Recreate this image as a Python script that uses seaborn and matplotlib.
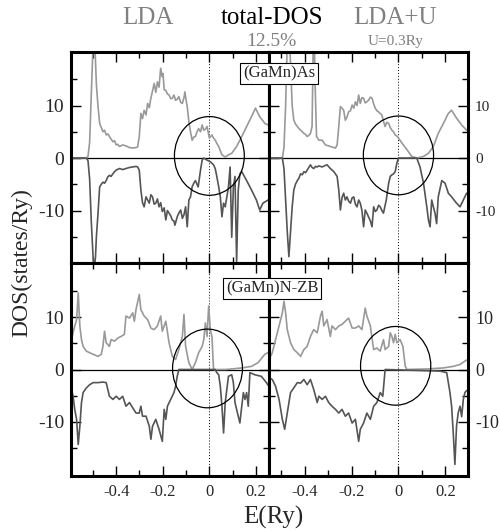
import numpy as np
import matplotlib
matplotlib.use("Agg")
import matplotlib.pyplot as plt
from matplotlib.patches import Ellipse
from matplotlib.ticker import FixedLocator, MultipleLocator, FixedFormatter
import seaborn as sns

# ---------------- data: (E in Ry, DOS in states/Ry) ----------------
# (GaMn)As, LDA
as_lda_up = [(-0.592, 0), (-0.528, 0), (-0.521, 0.3), (-0.514, 3), (-0.507, 12), (-0.499, 22), (-0.492, 22),
             (-0.485, 14), (-0.478, 9.8), (-0.471, 6.6), (-0.464, 5.8), (-0.457, 5.0), (-0.450, 5.3), (-0.443, 4.4),
             (-0.436, 4.6), (-0.429, 4.1), (-0.422, 3.6), (-0.414, 3.1), (-0.407, 3.3), (-0.400, 2.5), (-0.393, 2.6),
             (-0.386, 2.2), (-0.372, 2.5), (-0.358, 2.3), (-0.343, 2.0), (-0.329, 1.9), (-0.315, 2.0), (-0.308, 2.1),
             (-0.301, 4.1), (-0.294, 8.5), (-0.287, 7.5), (-0.280, 9.1), (-0.272, 8.2), (-0.265, 10.4), (-0.258, 9.6),
             (-0.251, 11.4), (-0.244, 12.8), (-0.237, 14.2), (-0.230, 12.5), (-0.223, 14.5), (-0.216, 13.5),
             (-0.209, 17.1), (-0.202, 15.5), (-0.199, 16.1), (-0.194, 13.0), (-0.187, 12.9), (-0.180, 12.2),
             (-0.173, 12.0), (-0.166, 11.3), (-0.159, 11.4), (-0.152, 12.0), (-0.145, 11.0), (-0.138, 11.2),
             (-0.131, 11.7), (-0.123, 10.6), (-0.116, 10.4), (-0.109, 11.5), (-0.105, 12.6), (-0.099, 10.8),
             (-0.095, 9.8), (-0.088, 6.9), (-0.081, 5.0), (-0.074, 3.4), (-0.067, 4.0), (-0.060, 4.1), (-0.053, 5.0),
             (-0.046, 5.6), (-0.038, 5.0), (-0.031, 6.3), (-0.024, 5.3), (-0.017, 5.5), (-0.010, 6.0), (-0.003, 4.5),
             (0.000, 3.8), (0.011, 4.4), (0.018, 3.8), (0.025, 3.4), (0.032, 2.8), (0.040, 2.2), (0.047, 1.4),
             (0.054, 0.6), (0.068, 0.2), (0.082, 0.6), (0.096, 0.9), (0.117, 2.2), (0.139, 4.1), (0.160, 6.0),
             (0.181, 7.9), (0.198, 9.5), (0.216, 7.9), (0.238, 6.6), (0.252, 6.3)]
as_lda_dn = [(-0.592, 0), (-0.528, 0), (-0.521, -0.5), (-0.514, -4), (-0.507, -12), (-0.499, -19), (-0.495, -21),
             (-0.489, -19), (-0.485, -15), (-0.478, -10.5), (-0.471, -5.5), (-0.464, -5.0), (-0.457, -4.6),
             (-0.450, -4.8), (-0.443, -4.3), (-0.436, -3.6), (-0.429, -3.3), (-0.422, -3.5), (-0.414, -3.0),
             (-0.407, -2.6), (-0.400, -2.3), (-0.386, -2.0), (-0.372, -2.2), (-0.358, -2.0), (-0.343, -1.8),
             (-0.329, -1.7), (-0.315, -1.6), (-0.308, -1.7), (-0.301, -2.3), (-0.294, -6.1), (-0.287, -8.5),
             (-0.280, -9.3), (-0.272, -7.4), (-0.265, -8.0), (-0.258, -8.6), (-0.251, -7.0), (-0.244, -7.4),
             (-0.237, -8.8), (-0.230, -8.6), (-0.223, -7.8), (-0.216, -9.3), (-0.209, -8.5), (-0.202, -10.2),
             (-0.194, -9.5), (-0.187, -11.8), (-0.180, -10.0), (-0.173, -10.5), (-0.166, -11.0), (-0.159, -11.8),
             (-0.152, -12.0), (-0.148, -12.8), (-0.138, -11.2), (-0.131, -10.5), (-0.123, -9.9), (-0.116, -11.5),
             (-0.109, -10.8), (-0.102, -9.3), (-0.095, -13.1), (-0.088, -8.0), (-0.081, -7.4), (-0.074, -5.5),
             (-0.067, -4.8), (-0.060, -4.3), (-0.053, -5.0), (-0.048, -5.5), (-0.038, -2.3), (-0.031, -0.4),
             (-0.024, 0), (-0.017, -0.2), (-0.010, -0.4), (0.004, -0.7), (0.018, -1.3), (0.025, -2.0), (0.032, -3.5),
             (0.040, -5.5), (0.047, -7.4), (0.054, -11.2), (0.061, -8.6), (0.068, -9.3), (0.075, -7.4),
             (0.082, -5.5), (0.089, -1.7), (0.096, -15.1), (0.103, -5.5), (0.110, -3.5), (0.117, -19.7),
             (0.124, -6.1), (0.131, -3.0), (0.139, -2.6), (0.160, -4.3), (0.181, -6.1), (0.202, -8.0),
             (0.216, -9.9), (0.230, -8.6), (0.252, -8.0)]

# (GaMn)As, LDA+U
as_ldau_up = [(-0.553, 0), (-0.496, 0), (-0.489, 2), (-0.482, 10), (-0.475, 22), (-0.468, 25), (-0.461, 18),
              (-0.454, 10), (-0.447, 7.2), (-0.440, 6.5), (-0.432, 6.0), (-0.425, 5.6), (-0.418, 5.3),
              (-0.411, 5.0), (-0.404, 4.7), (-0.397, 4.5), (-0.390, 4.1), (-0.383, 4.3), (-0.376, 4.7),
              (-0.369, 6.0), (-0.364, 22), (-0.360, 24), (-0.356, 14), (-0.350, 4.1), (-0.340, 3.4), (-0.326, 3.4),
              (-0.312, 2.5), (-0.291, 2.2), (-0.269, 1.9), (-0.262, 2.5), (-0.255, 6.0), (-0.248, 9.8),
              (-0.241, 9.5), (-0.234, 9.1), (-0.227, 7.2), (-0.220, 7.8), (-0.213, 8.8), (-0.205, 9.0),
              (-0.198, 10.1), (-0.191, 9.5), (-0.184, 10.7), (-0.177, 10.0), (-0.170, 12.0), (-0.163, 10.4),
              (-0.156, 11.5), (-0.149, 11.4), (-0.142, 10.5), (-0.135, 10.7), (-0.128, 11.0), (-0.120, 11.6),
              (-0.113, 11.4), (-0.106, 10.3), (-0.099, 9.5), (-0.092, 9.0), (-0.085, 8.8), (-0.078, 8.5),
              (-0.071, 8.2), (-0.064, 7.0), (-0.057, 6.0), (-0.050, 6.8), (-0.042, 6.6), (-0.035, 5.8),
              (-0.028, 5.3), (-0.021, 5.0), (-0.014, 4.4), (-0.007, 4.2), (0.000, 3.8), (0.014, 2.9), (0.036, 1.6),
              (0.057, 0.3), (0.078, 0), (0.107, 0.3), (0.128, 0.9), (0.149, 2.2), (0.170, 4.7), (0.192, 6.6),
              (0.213, 8.5), (0.227, 9.1), (0.248, 7.6), (0.270, 6.3), (0.291, 5.3)]
as_ldau_dn = [(-0.553, 0), (-0.496, 0), (-0.489, -2), (-0.482, -8), (-0.475, -14), (-0.468, -18.8), (-0.461, -14),
              (-0.454, -9.3), (-0.447, -6.1), (-0.440, -5.0), (-0.432, -4.3), (-0.425, -3.8), (-0.418, -3.0),
              (-0.411, -3.2), (-0.404, -2.6), (-0.397, -2.8), (-0.390, -2.3), (-0.383, -1.8), (-0.376, -1.3),
              (-0.369, -1.8), (-0.362, -2.0), (-0.354, -1.6), (-0.347, -1.7), (-0.340, -1.5), (-0.326, -1.7),
              (-0.312, -1.4), (-0.305, -1.3), (-0.291, -2.0), (-0.276, -2.6), (-0.262, -3.5), (-0.255, -6.1),
              (-0.248, -9.9), (-0.241, -7.5), (-0.234, -6.7), (-0.227, -8.0), (-0.220, -7.4), (-0.213, -8.2),
              (-0.205, -8.6), (-0.198, -7.6), (-0.191, -7.4), (-0.184, -8.8), (-0.177, -9.3), (-0.170, -8.0),
              (-0.163, -8.6), (-0.156, -10.0), (-0.149, -13.1), (-0.142, -9.9), (-0.135, -10.5), (-0.128, -11.2),
              (-0.120, -12.0), (-0.113, -13.1), (-0.106, -9.3), (-0.099, -10.2), (-0.092, -9.9), (-0.085, -9.0),
              (-0.078, -9.3), (-0.071, -10.0), (-0.064, -10.5), (-0.057, -9.0), (-0.052, -8.0), (-0.042, -4.8),
              (-0.035, -3.5), (-0.028, -3.2), (-0.021, -3.0), (-0.014, -2.6), (-0.007, -1.0), (0.000, 0),
              (0.036, 0), (0.078, 0), (0.092, -1.7), (0.107, -4.8), (0.121, -9.3), (0.128, -11.8), (0.135, -13.1),
              (0.142, -8.0), (0.149, -9.3), (0.156, -10.5), (0.163, -12.5), (0.170, -7.4), (0.185, -4.3),
              (0.199, -4.8), (0.213, -6.7), (0.227, -7.4), (0.248, -8.6), (0.263, -9.3), (0.277, -8.0),
              (0.291, -6.7)]

# (GaMn)N-ZB, LDA
n_lda_up = [(-0.592, 5.7), (-0.585, 7.0), (-0.578, 8.3), (-0.570, 9.5), (-0.563, 14.6), (-0.556, 8.3),
            (-0.549, 5.7), (-0.542, 4.4), (-0.528, 3.5), (-0.514, 3.2), (-0.499, 2.9), (-0.478, 2.5), (-0.464, 2.9),
            (-0.457, 4.4), (-0.450, 7.3), (-0.443, 5.1), (-0.429, 4.4), (-0.422, 5.7), (-0.407, 5.4), (-0.393, 6.0),
            (-0.379, 6.3), (-0.365, 6.7), (-0.358, 10.2), (-0.343, 9.8), (-0.329, 10.8), (-0.322, 9.2),
            (-0.315, 11.4), (-0.301, 14.3), (-0.294, 11.4), (-0.280, 10.2), (-0.265, 9.5), (-0.251, 7.9),
            (-0.237, 7.6), (-0.223, 8.3), (-0.209, 10.2), (-0.202, 7.3), (-0.187, 9.2), (-0.173, 5.1),
            (-0.159, 2.5), (-0.145, 1.9), (-0.131, 3.8), (-0.116, 6.3), (-0.109, 10.5), (-0.102, 4.4),
            (-0.088, 1.3), (-0.074, 0), (-0.060, 1.3), (-0.046, 3.2), (-0.031, 4.4), (-0.024, 5.7), (-0.017, 8.9),
            (-0.010, 6.3), (-0.003, 12.1), (0.004, 7.6), (0.011, 6.3), (0.018, 0), (0.068, 0), (0.096, 0.1),
            (0.139, 0.3), (0.181, 0.6), (0.209, 1.3), (0.238, 2.9), (0.252, 3.2)]
n_lda_dn = [(-0.592, -3.8), (-0.585, -5.1), (-0.578, -7.6), (-0.570, -9.5), (-0.563, -14.3), (-0.556, -10.8),
            (-0.549, -6.3), (-0.542, -4.4), (-0.528, -3.5), (-0.514, -2.9), (-0.499, -2.5), (-0.478, -2.5),
            (-0.457, -2.4), (-0.443, -2.5), (-0.436, -3.8), (-0.429, -5.1), (-0.414, -5.7), (-0.400, -5.1),
            (-0.386, -5.7), (-0.372, -5.1), (-0.358, -7.0), (-0.343, -6.3), (-0.329, -7.3), (-0.315, -8.3),
            (-0.301, -8.3), (-0.294, -7.0), (-0.287, -8.9), (-0.272, -8.9), (-0.258, -10.8), (-0.251, -13.3),
            (-0.244, -10.8), (-0.230, -9.5), (-0.216, -11.4), (-0.202, -13.7), (-0.194, -7.6), (-0.187, -9.5),
            (-0.180, -7.0), (-0.166, -5.7), (-0.152, -4.4), (-0.145, -3.2), (-0.138, -1.3), (-0.131, 0),
            (0.025, 0), (0.032, -0.6), (0.040, -1.0), (0.047, -3.2), (0.054, -7.0), (0.061, -12.1), (0.068, -6.3),
            (0.075, -3.8), (0.082, -1.3), (0.096, -1.0), (0.103, -2.5), (0.110, -6.3), (0.124, -8.9),
            (0.131, -10.2), (0.139, -7.0), (0.146, -4.4), (0.153, -5.7), (0.160, -4.4), (0.167, -7.0),
            (0.174, -0.6), (0.195, -1.0), (0.223, -1.3), (0.245, -2.5), (0.252, -3.0)]

# (GaMn)N-ZB, LDA+U
n_ldau_up = [(-0.553, 1.9), (-0.539, 3.2), (-0.525, 5.7), (-0.510, 8.3), (-0.496, 10.8), (-0.489, 13.0),
             (-0.482, 10.8), (-0.475, 7.6), (-0.461, 5.1), (-0.447, 3.8), (-0.432, 3.2), (-0.418, 2.5),
             (-0.404, 3.8), (-0.390, 4.4), (-0.376, 6.3), (-0.362, 7.6), (-0.347, 7.0), (-0.333, 10.2),
             (-0.326, 11.1), (-0.319, 8.3), (-0.305, 9.5), (-0.291, 6.3), (-0.284, 8.3), (-0.269, 7.6),
             (-0.255, 8.3), (-0.241, 8.6), (-0.227, 9.2), (-0.213, 9.8), (-0.198, 7.9), (-0.184, 7.9),
             (-0.170, 8.3), (-0.156, 7.6), (-0.142, 11.7), (-0.135, 10.2), (-0.120, 8.3), (-0.113, 6.0),
             (-0.106, 3.8), (-0.092, 4.1), (-0.078, 3.5), (-0.064, 5.7), (-0.057, 3.8), (-0.042, 4.4),
             (-0.035, 7.0), (-0.028, 6.3), (-0.021, 5.1), (-0.014, 6.7), (-0.007, 5.1), (0.007, 5.7),
             (0.019, 4.4), (0.029, 0.6), (0.036, 0), (0.121, 0.1), (0.192, 0.3), (0.234, 0.6), (0.263, 0.95),
             (0.284, 1.6), (0.291, 1.8)]
n_ldau_dn = [(-0.553, -1.6), (-0.539, -1.9), (-0.525, -3.2), (-0.510, -5.7), (-0.496, -9.5), (-0.486, -11.4),
             (-0.475, -8.3), (-0.461, -4.4), (-0.447, -3.5), (-0.432, -2.5), (-0.418, -2.6), (-0.404, -1.9),
             (-0.390, -2.9), (-0.376, -1.9), (-0.362, -3.8), (-0.347, -6.3), (-0.340, -5.1), (-0.326, -5.7),
             (-0.312, -5.1), (-0.298, -6.3), (-0.284, -7.0), (-0.269, -7.6), (-0.255, -8.3), (-0.241, -7.6),
             (-0.227, -8.9), (-0.213, -8.3), (-0.198, -10.2), (-0.184, -9.5), (-0.170, -13.7), (-0.163, -11.4),
             (-0.149, -10.2), (-0.135, -8.3), (-0.120, -9.5), (-0.106, -7.0), (-0.092, -6.3), (-0.078, -4.4),
             (-0.067, -5.1), (-0.057, 0), (0.177, -0.3), (0.206, -0.6), (0.213, -2.5), (0.220, -4.4),
             (0.227, -7.0), (0.234, -12.1), (0.241, -18.1), (0.248, -10.8), (0.255, -8.3), (0.263, -7.0),
             (0.270, -9.0), (0.277, -5.7), (0.284, -4.4), (0.291, -4.0)]

xtick_vals = [-0.4, -0.2, 0, 0.2]
xtick_labels = ["-0.4", "-0.2", "0", "0.2"]
ytick_vals = [-10, 0, 10]
ytick_labels = ["-10", "0", "10"]

light = "#999999"
dark = "#555555"

sns.set_style("ticks")
plt.rcParams["font.family"] = ["Liberation Serif", "DejaVu Serif"]
plt.rcParams["axes.unicode_minus"] = False

fig = plt.figure(figsize=(5.0, 5.31), dpi=100)

W, H = 500, 531


def box(x0, y0, x1, y1):
    return [x0 / W, 1 - y1 / H, (x1 - x0) / W, (y1 - y0) / H]


panels = [
    (box(71, 52, 269, 263), as_lda_up, as_lda_dn, (-0.594, 0.256), (-20.0, 20.2), "left", False, (0.0, 0.4), 14),
    (box(269, 52, 468, 263), as_ldau_up, as_ldau_dn, (-0.553, 0.297), (-20.0, 20.2), "right", False, (0.0, 0.5), 11),
    (box(71, 263, 269, 476), n_lda_up, n_lda_dn, (-0.594, 0.256), (-20.3, 20.3), "left", True, (-0.008, 0.2), 14),
    (box(269, 263, 468, 476), n_ldau_up, n_ldau_dn, (-0.553, 0.297), (-20.3, 20.3), "right", True, (-0.012, 0.7), 13),
]

for rect, up, dn, xl, yl, side, xlab, circ, yfs in panels:
    ax = fig.add_axes(rect)
    ax.axhline(0, color="black", lw=0.9, zorder=1)
    ax.axvline(0, color="black", lw=0.7, ls=(0, (1, 2)), zorder=1)
    for data, col in [(up, light), (dn, dark)]:
        e = [p[0] for p in data]
        d = [p[1] for p in data]
        sns.lineplot(x=e, y=d, sort=False, estimator=None, color=col, lw=1.2, ax=ax, zorder=2)
    ax.add_patch(Ellipse(circ, 0.30, 15.0, fill=False, ec="black", lw=0.9, zorder=3))
    ax.set_xlim(*xl)
    ax.set_ylim(*yl)
    ax.xaxis.set_major_locator(FixedLocator(xtick_vals))
    ax.xaxis.set_minor_locator(MultipleLocator(0.1))
    ax.yaxis.set_major_locator(FixedLocator(ytick_vals))
    ax.yaxis.set_minor_locator(FixedLocator([-15, -5, 5, 15]))
    ax.tick_params(which="both", direction="in", top=True, bottom=True, left=True, right=True,
                   color="black", width=1.0)
    ax.tick_params(which="major", length=7)
    ax.tick_params(which="minor", length=4)
    if xlab:
        ax.xaxis.set_major_formatter(FixedFormatter(xtick_labels))
        ax.tick_params(axis="x", labelsize=12, labelbottom=True, pad=6)
    else:
        ax.tick_params(axis="x", labelbottom=False)
    ax.yaxis.set_major_formatter(FixedFormatter(ytick_labels))
    if side == "left":
        ax.tick_params(axis="y", labelleft=True, labelright=False, labelsize=yfs, pad=5)
    else:
        ax.tick_params(axis="y", labelleft=False, labelright=True, labelsize=yfs, pad=5)
    ax.set_xlabel("")
    ax.set_ylabel("")
    for s in ax.spines.values():
        s.set_linewidth(2.2)
        s.set_color("black")

grey = "#808080"
fig.text(148 / W, 1 - 18 / H, "LDA", color=grey, fontsize=18, ha="center", va="center")
fig.text(272 / W, 1 - 18 / H, "total-DOS", color="black", fontsize=18, ha="center", va="center")
fig.text(395 / W, 1 - 18 / H, "LDA+U", color=grey, fontsize=18, ha="center", va="center")
fig.text(271 / W, 1 - 41 / H, "12.5%", color=grey, fontsize=14, ha="center", va="center")
fig.text(396 / W, 1 - 41 / H, "U=0.3Ry", color=grey, fontsize=11, ha="center", va="center")

bb = dict(boxstyle="square,pad=0.15", fc="white", ec="black", lw=0.8)
fig.text(279 / W, 1 - 73 / H, "(GaMn)As", fontsize=12, ha="center", va="center", bbox=bb)
fig.text(272 / W, 1 - 288 / H, "(GaMn)N-ZB", fontsize=12, ha="center", va="center", bbox=bb)

fig.text(273 / W, 1 - 517 / H, "E(Ry)", fontsize=18, ha="center", va="center")
fig.text(22 / W, 1 - 263 / H, "DOS(states/Ry)", fontsize=17, ha="center", va="center", rotation=90)

fig.savefig("out.png", dpi=100)
